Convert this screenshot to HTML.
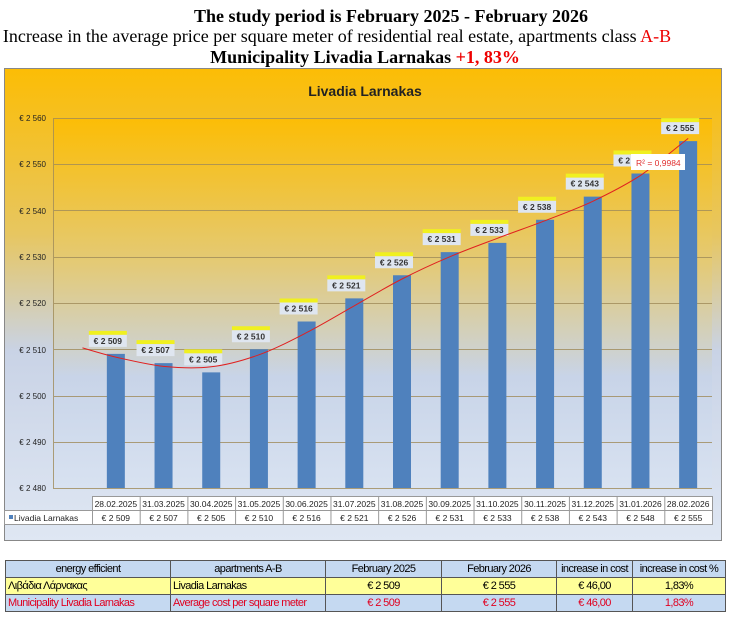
<!DOCTYPE html><html><head><meta charset="utf-8"><style>
body{margin:0;width:730px;height:624px;background:#fff;font-family:"Liberation Sans",sans-serif;position:relative;overflow:hidden}
.h{position:absolute;white-space:nowrap;font-family:"Liberation Serif",serif;font-size:18px;line-height:20px;transform:translateX(-50%)}
table{position:absolute;left:5px;top:560px;border-collapse:collapse;font-size:11px;font-family:"Liberation Sans",sans-serif;letter-spacing:-0.6px;table-layout:fixed;width:720px}
td{border:1px solid #555;height:16px;padding:0 2px;text-align:center;white-space:nowrap;overflow:hidden}
</style></head><body>
<div class="h" style="left:391px;top:6px;font-weight:bold">The study period is February 2025 - February 2026</div>
<div class="h" style="left:337px;top:26px">Increase in the average price per square meter of residential real estate, apartments class <span style="color:#e00">A-B</span></div>
<div class="h" style="left:365px;top:47px;font-weight:bold">Municipality Livadia Larnakas <span style="color:#e00">+1, 83%</span></div>
<svg style="position:absolute;left:0;top:0" width="730" height="624">
<defs>
<linearGradient id="bg" x1="0" y1="0" x2="0" y2="1"><stop offset="0" stop-color="#fcbd05"/><stop offset="0.35" stop-color="#e7c660"/><stop offset="0.6" stop-color="#c9d3e6"/><stop offset="1" stop-color="#dfe7f3"/></linearGradient>
<linearGradient id="pl" x1="0" y1="0" x2="0" y2="1"><stop offset="0" stop-color="#fcbd05"/><stop offset="0.4" stop-color="#e3ca78"/><stop offset="0.7" stop-color="#c8d4e8"/><stop offset="1" stop-color="#d8e2f1"/></linearGradient>
</defs>
<rect x="4.5" y="68.5" width="717" height="472" fill="url(#bg)" stroke="#888"/>
<rect x="53" y="118" width="659" height="370" fill="url(#pl)"/>
<text x="365" y="96" text-anchor="middle" font-size="14" font-weight="bold" fill="#222">Livadia Larnakas</text>
<g stroke="#a08c5a" stroke-width="1" fill="none" opacity="0.8">
<line x1="53" y1="118.5" x2="712" y2="118.5"/><line x1="53" y1="164.5" x2="712" y2="164.5"/><line x1="53" y1="210.5" x2="712" y2="210.5"/><line x1="53" y1="257.5" x2="712" y2="257.5"/><line x1="53" y1="303.5" x2="712" y2="303.5"/><line x1="53" y1="349.5" x2="712" y2="349.5"/><line x1="53" y1="396.5" x2="712" y2="396.5"/><line x1="53" y1="442.5" x2="712" y2="442.5"/><line x1="53" y1="488.5" x2="712" y2="488.5"/>
<line x1="53.5" y1="118" x2="53.5" y2="488"/>
</g>
<g font-size="8" fill="#222" text-anchor="end">
<text x="46" y="121">€ 2 560</text><text x="46" y="167">€ 2 550</text><text x="46" y="214">€ 2 540</text><text x="46" y="260">€ 2 530</text><text x="46" y="306">€ 2 520</text><text x="46" y="353">€ 2 510</text><text x="46" y="399">€ 2 500</text><text x="46" y="445">€ 2 490</text><text x="46" y="491">€ 2 480</text>
</g>
<g id="bars"></g>
<path id="tr" fill="none" stroke="#e02020" stroke-width="1"/>
<g id="top"></g>
<g font-size="8.5" fill="#222">
<rect x="92.5" y="496.5" width="620" height="14" fill="#fff" stroke="#999"/>
<rect x="4.5" y="510.5" width="708" height="14" fill="#fff" stroke="#999"/>
<rect x="9" y="515" width="4" height="4" fill="#4f81bd"/>
<text x="14" y="521">Livadia Larnakas</text>
<g id="tbl"></g>
</g>
</svg>
<table>
<colgroup><col style="width:165px"><col style="width:155px"><col style="width:116px"><col style="width:115px"><col style="width:76px"><col style="width:93px"></colgroup>
<tr style="background:#c5d9f1"><td>energy efficient</td><td>apartments A-B</td><td>February 2025</td><td>February 2026</td><td>increase in cost</td><td>increase in cost %</td></tr>
<tr style="background:#ffff99"><td style="text-align:left">Λιβάδια Λάρνακας</td><td style="text-align:left">Livadia Larnakas</td><td>€ 2 509</td><td>€ 2 555</td><td>€ 46,00</td><td>1,83%</td></tr>
<tr style="background:#c5d9f1;color:#e00020"><td style="text-align:left">Municipality Livadia Larnakas</td><td style="text-align:left">Average cost per square meter</td><td>€ 2 509</td><td>€ 2 555</td><td>€ 46,00</td><td>1,83%</td></tr>
</table>
<script>
var v=[2509,2507,2505,2510,2516,2521,2526,2531,2533,2538,2543,2548,2555];
var d=["28.02.2025","31.03.2025","30.04.2025","31.05.2025","30.06.2025","31.07.2025","31.08.2025","30.09.2025","31.10.2025","30.11.2025","31.12.2025","31.01.2026","28.02.2026"];
var ns="http://www.w3.org/2000/svg",s=620/13,b=document.getElementById("bars"),t=document.getElementById("tbl");
function el(n,a,p,tx){var e=document.createElementNS(ns,n);for(var k in a)e.setAttribute(k,a[k]);if(tx)e.textContent=tx;p.appendChild(e);return e}
v.forEach(function(x,i){var c=92+s*(i+0.5),y=488-(x-2480)*4.625;
el("rect",{x:c-9,y:y,width:18,height:488-y,fill:"#4f81bd"},b);
var ly=y-19;el("rect",{x:c-27,y:ly-4,width:38,height:4,fill:"#f0f020"},b);el("rect",{x:c-27,y:ly,width:38,height:12,fill:"#dfe6f0"},b);
el("text",{x:c-8,y:ly+9,"font-size":"8.5","font-weight":"bold","text-anchor":"middle",fill:"#333"},b,"€ 2 "+String(x).slice(1));
var xs=92+s*i;el("line",{x1:xs+.5,y1:496,x2:xs+.5,y2:524,stroke:"#999"},t);
el("text",{x:c,y:507,"text-anchor":"middle"},t,d[i]);el("text",{x:c,y:521,"text-anchor":"middle"},t,"€ 2 "+String(x).slice(1));
});
// trend through smoothed points
var sm=[[-0.7,2510.3],[0,2508.3],[1,2506.3],[2,2506.2],[3,2508.8],[4,2513.6],[5,2519.4],[6,2525.2],[7,2530.0],[8,2534.0],[9,2537.8],[10,2542.0],[11,2547.6],[12,2555.6]];
var P=sm.map(function(q){return [92+s*(q[0]+0.5),488-(q[1]-2480)*4.625]});
var p="M"+P[0][0]+" "+P[0][1];
for(var i=0;i<P.length-1;i++){var a=P[i-1]||P[i],b0=P[i],c=P[i+1],e=P[i+2]||c;
p+="C"+(b0[0]+(c[0]-a[0])/6).toFixed(1)+" "+(b0[1]+(c[1]-a[1])/6).toFixed(1)+" "+(c[0]-(e[0]-b0[0])/6).toFixed(1)+" "+(c[1]-(e[1]-b0[1])/6).toFixed(1)+" "+c[0].toFixed(1)+" "+c[1].toFixed(1);}
document.getElementById("tr").setAttribute("d",p);
var g=document.getElementById("top");el("rect",{x:631,y:154,width:54,height:16,fill:"#fff"},g);el("text",{x:636,y:166,"font-size":"8.5",fill:"#e03030"},g,"R² = 0,9984");
</script>
</body></html>
